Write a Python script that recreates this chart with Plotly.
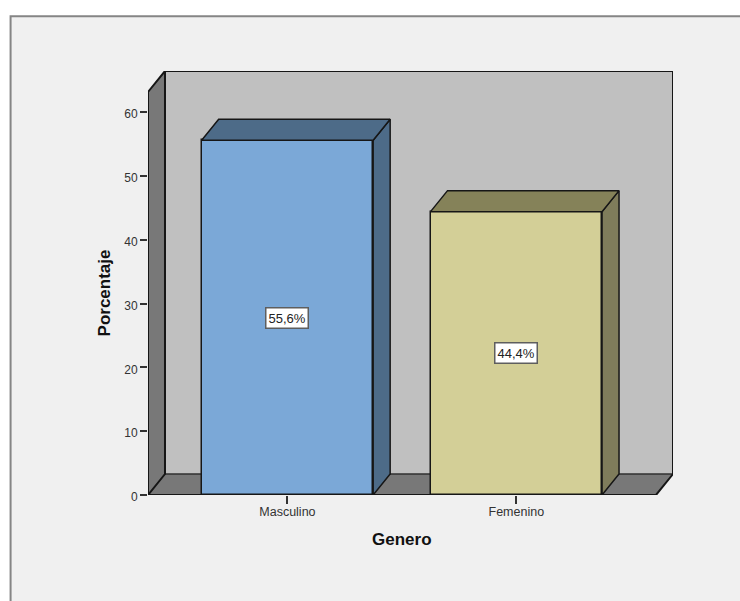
import plotly.graph_objects as go

categories = ["Masculino", "Femenino"]
porcentajes = [55.6, 44.4]
labels = ["55,6%", "44,4%"]
front_colors = ["#7ba8d7", "#d3cf97"]
top_colors = ["#4d6b88", "#858259"]
side_colors = ["#4d6b88", "#7f7c5b"]
y_ticks = [0, 10, 20, 30, 40, 50, 60]

# Page geometry of the plot area, in pixels
WIDTH, HEIGHT = 740, 601
LEFT, RIGHT, TOP, BOTTOM = 148.0, 673.3, 70.5, 494.7
CAT_STEP = 229.0
CAT0_PX = 287.5
PX_PER_UNIT = 6.385
BAR_WIDTH = 171.6 / CAT_STEP

# Oblique depth of the fake 3D box, in data units
DX = 17.0 / CAT_STEP
DY = 21.0 / PX_PER_UNIT

x_min = (LEFT - CAT0_PX) / CAT_STEP
x_max = (RIGHT - CAT0_PX) / CAT_STEP
y_max = (BOTTOM - TOP) / PX_PER_UNIT
EDGE = "#161616"


def paper_x(px):
    return (px - LEFT) / (RIGHT - LEFT)


def paper_y(py):
    return (BOTTOM - py) / (BOTTOM - TOP)


def poly_path(points):
    return "M " + " L ".join(f"{x},{y}" for x, y in points) + " Z"


def outline(xs, ys, width=2, color=EDGE):
    return go.Scatter(
        x=xs, y=ys, mode="lines", cliponaxis=False, hoverinfo="skip",
        showlegend=False, line=dict(color=color, width=width),
    )


def filled(points, color):
    xs = [p[0] for p in points] + [points[0][0]]
    ys = [p[1] for p in points] + [points[0][1]]
    return go.Scatter(
        x=xs, y=ys, mode="lines", fill="toself", fillcolor=color,
        cliponaxis=False, hoverinfo="skip", showlegend=False,
        line=dict(color=EDGE, width=1.5),
    )


front_right = x_max - DX
wall_top = y_max - DY

shapes = [
    # Frame of the chart area, running off the right and bottom of the page
    dict(type="rect", xref="paper", yref="paper", layer="below",
         x0=paper_x(10.5), x1=paper_x(WIDTH + 10),
         y0=paper_y(HEIGHT + 10), y1=paper_y(15.7),
         fillcolor="#f0f0f0", line=dict(color="#858585", width=2)),
    # Back wall, left wall and floor of the box
    dict(type="path", layer="below", fillcolor="#c0c0c0", line=dict(width=0),
         path=poly_path([(x_min + DX, DY), (x_max, DY), (x_max, y_max), (x_min + DX, y_max)])),
    dict(type="path", layer="below", fillcolor="#787878", line=dict(width=0),
         path=poly_path([(x_min, 0), (x_min + DX, DY), (x_min + DX, y_max), (x_min, wall_top)])),
    dict(type="path", layer="below", fillcolor="#787878", line=dict(width=0),
         path=poly_path([(x_min, 0), (front_right, 0), (x_max, DY), (x_min + DX, DY)])),
    dict(type="path", layer="below", fillcolor="rgba(0,0,0,0)",
         line=dict(color="#303030", width=1.6),
         path=poly_path([(x_min + DX, DY), (x_max, DY)])),
]

fig = go.Figure()

fig.add_trace(go.Bar(
    x=[0, 1], y=porcentajes, width=BAR_WIDTH, showlegend=False, hoverinfo="skip",
    marker=dict(color=front_colors, line=dict(color=EDGE, width=1.5)),
))

# Box outline that sits on the plot-area edge
fig.add_trace(outline([x_min, x_min, x_min + DX, x_max, x_max, front_right, x_min],
                      [0, wall_top, y_max, y_max, DY, 0, 0]))
fig.add_trace(outline([x_min, x_min + DX, x_min + DX], [0, DY, y_max]))

# Top and side faces of each bar
for i, value in enumerate(porcentajes):
    x0 = i - BAR_WIDTH / 2
    x1 = i + BAR_WIDTH / 2
    fig.add_trace(filled([(x1, 0), (x1 + DX, DY), (x1 + DX, value + DY), (x1, value)], side_colors[i]))
    fig.add_trace(filled([(x0, value), (x0 + DX, value + DY), (x1 + DX, value + DY), (x1, value)], top_colors[i]))

annotations = [
    dict(x=i, y=value / 2, text=labels[i], showarrow=False, xref="x", yref="y",
         font=dict(family="Liberation Sans", size=13, color="#222222"),
         bgcolor="white", bordercolor="#5e5e5e", borderwidth=1.5, borderpad=2)
    for i, value in enumerate(porcentajes)
]

# Axis titles, positioned off-centre from the plot area
title_font = dict(family="Liberation Sans", size=17, color="#111111")
annotations += [
    dict(x=paper_x(402), y=paper_y(539), xref="paper", yref="paper", showarrow=False,
         xanchor="center", yanchor="middle", text="<b>Genero</b>", font=title_font),
    dict(x=paper_x(104), y=paper_y(293), xref="paper", yref="paper", showarrow=False,
         xanchor="center", yanchor="middle", text="<b>Porcentaje</b>", font=title_font,
         textangle=-90),
]

fig.update_layout(
    width=WIDTH, height=HEIGHT, autosize=False,
    margin=dict(l=LEFT, r=WIDTH - RIGHT, t=TOP, b=HEIGHT - BOTTOM, pad=0),
    paper_bgcolor="white", plot_bgcolor="rgba(0,0,0,0)",
    font=dict(family="Liberation Sans", color="#333333"),
    shapes=shapes, annotations=annotations, showlegend=False, bargap=0,
    xaxis=dict(
        range=[x_min, x_max], tickmode="array", tickvals=[0, 1], ticktext=categories,
        ticks="outside", ticklen=8, tickwidth=1.5, tickcolor="#333333",
        tickfont=dict(size=12.5), ticklabelstandoff=-3,
        showgrid=False, zeroline=False, showline=False,
    ),
    yaxis=dict(
        range=[0, y_max], tickmode="array", tickvals=y_ticks,
        ticks="outside", ticklen=7, tickwidth=1.5, tickcolor="#333333",
        tickfont=dict(size=12), ticklabelshift=2,
        showgrid=False, zeroline=False, showline=False,
    ),
)

fig.write_html("out.html", config=dict(displayModeBar=False))
